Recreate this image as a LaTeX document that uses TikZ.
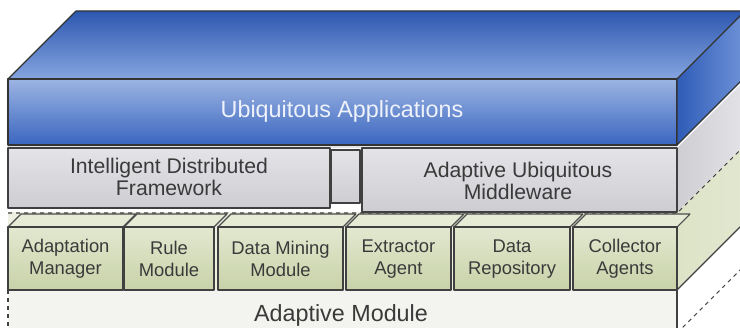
\documentclass[tikz,border=0pt]{standalone}
\usepackage{fontspec}
\setmainfont{Liberation Sans}
\definecolor{bluetopA}{HTML}{2D58B0}
\definecolor{bluetopB}{HTML}{86A5DF}
\definecolor{bluefrA}{HTML}{9DB4E2}
\definecolor{bluefrB}{HTML}{5A85D2}
\definecolor{bluefrC}{HTML}{3A66C0}
\definecolor{bluesideA}{HTML}{6F93D8}
\definecolor{bluesideB}{HTML}{2F5CB7}
\definecolor{greyA}{HTML}{E4E4E8}
\definecolor{greyB}{HTML}{CDCDD2}
\definecolor{greyside}{HTML}{D6D6DA}
\definecolor{greenA}{HTML}{E2E8D0}
\definecolor{greenB}{HTML}{C8D2A8}
\definecolor{greentop}{HTML}{E6EBD6}
\definecolor{greenband}{HTML}{EEF1E2}
\definecolor{greenside}{HTML}{DCE3C6}
\definecolor{botfill}{HTML}{F3F3EF}
\definecolor{txtdark}{HTML}{3A3A3A}
\definecolor{txtlight}{HTML}{EEF2FA}
\begin{document}
\begin{tikzpicture}[x=0.75pt,y=-0.75pt,line join=round,
  edge/.style={draw=black!75,line width=0.9pt},
  greybox/.style={edge,top color=greyA,bottom color=greyB},
  modbox/.style={edge,top color=greenA,bottom color=greenB},
  modtop/.style={fill=greentop,draw=black!70,line width=0.8pt},
  modtext/.style={text=txtdark,align=center,font=\fontsize{13.8}{16.5}\selectfont},
  greytext/.style={text=txtdark,align=center,font=\fontsize{15.9}{16.5}\selectfont},
  bigtext/.style={font=\fontsize{17.5}{21}\selectfont}]
\useasboundingbox (0,0) rectangle (740,328);
\begin{scope}
\clip (0,0) rectangle (740,328);
% ---------- bottom layer ----------
\fill[botfill] (8,290) rectangle (677,330);
\draw[black!70,dashed,line width=0.8pt] (677,333) -- (745,265);
\draw[edge] (677,290) -- (677,330);
\draw[edge,dashed] (8,290) -- (8,330);
\node[bigtext,text=txtdark] (adm) at (341,315) {Adaptive Module};
% ---------- green layer ----------
\fill[greenband] (8,212) rectangle (677,290);
\path[left color=greenside,right color=greenA] (677,212) -- (745,144) -- (745,222) -- (677,290) -- cycle;
\draw[edge] (677,290) -- (745,222);
\draw[black!75,dashed,line width=1pt] (8,213) -- (677,213) -- (745,145);
% modules
\foreach \xl/\xr/\nm/\txt in {8/123/am/{Adaptation\\Manager},124/214/rm/{Rule\\Module},218/343/dm/{Data Mining\\Module},346/451/ea/{Extractor\\Agent},454/570/dr/{Data\\Repository},573/677/ca/{Collector\\Agents}}{
  \path[modtop] (\xl,227) -- (\xl+13,214) -- (\xr+13,214) -- (\xr,227) -- cycle;
  \path[modbox] (\xl,227) rectangle (\xr,290);
  \node[modtext] (\nm) at ({(\xl+\xr)/2},259) {\txt};
}
% ---------- grey layer ----------
\fill[greyA] (8,145) rectangle (677,148);
\path[left color=greyB,right color=greyA] (677,148) -- (745,80) -- (745,144) -- (677,212) -- cycle;
\draw[edge] (677,148) -- (677,212);
\path[greybox] (331,150) rectangle (360,203);
\path[greybox] (8,148) rectangle (330,208);
\path[greybox] (362,148) rectangle (677,212);
\node[greytext] (idf) at (169,177) {Intelligent Distributed\\Framework};
\node[greytext] (aum) at (518,181) {Adaptive Ubiquitous\\Middleware};
% ---------- blue layer ----------
\path[top color=bluetopA,bottom color=bluetopB,draw=black!80,line width=0.9pt] (8,79) -- (76,11) -- (760,11) -- (677,79) -- cycle;
\path[top color=bluefrA,middle color=bluefrB,bottom color=bluefrC,draw=black!80,line width=0.9pt] (8,79) rectangle (677,145);
\path[left color=bluesideB,right color=bluesideA,draw=black!80,line width=0.9pt] (677,79) -- (745,11) -- (745,77) -- (677,145) -- cycle;
\node[bigtext,text=txtlight] (ua) at (342,111) {Ubiquitous Applications};
\end{scope}
\end{tikzpicture}
\end{document}
